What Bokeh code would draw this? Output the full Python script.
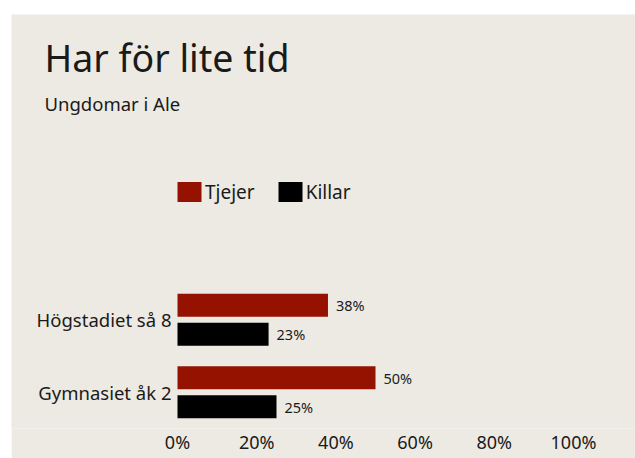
from bokeh.plotting import figure
from bokeh.models import (ColumnDataSource, Range1d, Label, Legend,
                          LegendItem, FixedTicker, PrintfTickFormatter)
from bokeh.transform import dodge
from bokeh.core.properties import value
from bokeh.embed import file_html
from bokeh.resources import INLINE

# ---- data ----
categories = ["Gymnasiet åk 2", "Högstadiet så 8"]
tjejer = [50, 38]
killar = [25, 23]
series_names = ["Tjejer", "Killar"]
x_ticks = [0, 20, 40, 60, 80, 100]
title_text = "Har för lite tid"
subtitle_text = "Ungdomar i Ale"

BG = "#ECEAE2"
RED = "#951200"
BLACK = "#000000"
TXT = "#1a1a1a"
FONT = "Noto Sans"

src = ColumnDataSource(dict(
    cat=categories,
    pos=list(range(len(categories))),
    tjejer=tjejer,
    killar=killar,
    tjejer_lbl=[f"{v}%" for v in tjejer],
    killar_lbl=[f"{v}%" for v in killar],
))

p = figure(
    x_range=Range1d(-41.92, 115.66),
    y_range=Range1d(-0.5, 5.207),
    frame_width=624, frame_height=414,
    min_border_left=0, min_border_right=0,
    min_border_top=0, min_border_bottom=30,
    y_axis_location=None,
    output_backend="svg", toolbar_location=None,
    background_fill_color=BG, border_fill_color=BG,
    outline_line_color=None,
)
p.margin = (14, 0, 0, 11)

bh = 0.317
off = 0.2
r1 = p.hbar(y=dodge("pos", off), right="tjejer", left=0, height=bh,
            source=src, fill_color=RED, line_color=None)
r2 = p.hbar(y=dodge("pos", -off), right="killar", left=0, height=bh,
            source=src, fill_color=BLACK, line_color=None)

p.text(x="tjejer", y=dodge("pos", off), text="tjejer_lbl", source=src,
       x_offset=8, text_baseline="middle", text_align="left",
       text_font=value(FONT), text_font_size="14.5px", text_color=TXT)
p.text(x="killar", y=dodge("pos", -off), text="killar_lbl", source=src,
       x_offset=8, text_baseline="middle", text_align="left",
       text_font=value(FONT), text_font_size="14.5px", text_color=TXT)

# category labels
p.text(x=0, y="pos", text="cat", source=src, x_offset=-6,
       text_baseline="middle", text_align="right",
       text_font=value(FONT), text_font_size="18.5px", text_color=TXT)

# x axis
p.xgrid.grid_line_color = None
p.ygrid.grid_line_color = None
ax = p.xaxis[0]
ax.axis_line_color = None
ax.major_tick_line_color = None
ax.minor_tick_line_color = None
ax.major_tick_out = 0
ax.major_tick_in = 0
ax.minor_tick_out = 0
ax.minor_tick_in = 0
ax.major_label_text_font = FONT
ax.major_label_text_font_size = "18px"
ax.major_label_text_color = TXT
ax.ticker = FixedTicker(ticks=x_ticks)
ax.formatter = PrintfTickFormatter(format="%d%%")
ax.major_label_standoff = 1

# legend
legend = Legend(items=[LegendItem(label=series_names[0], renderers=[r1]),
                       LegendItem(label=series_names[1], renderers=[r2])],
                location=(163, 223.5), orientation="horizontal",
                glyph_width=30, glyph_height=25, label_height=25,
                label_standoff=1, spacing=20, padding=0, margin=0,
                label_text_font=FONT, label_text_font_size="19px",
                label_text_color=TXT,
                background_fill_alpha=0, border_line_alpha=0)
p.add_layout(legend, "center")

# title & subtitle
p.add_layout(Label(x=33, y=371, x_units="screen", y_units="screen", text=title_text,
                   text_font=FONT, text_font_size="37.5px", text_color=TXT,
                   text_baseline="middle"))
p.add_layout(Label(x=33, y=325, x_units="screen", y_units="screen", text=subtitle_text,
                   text_font=FONT, text_font_size="18.5px", text_color=TXT,
                   text_baseline="middle"))

open("out.html", "w").write(file_html(p, INLINE))
